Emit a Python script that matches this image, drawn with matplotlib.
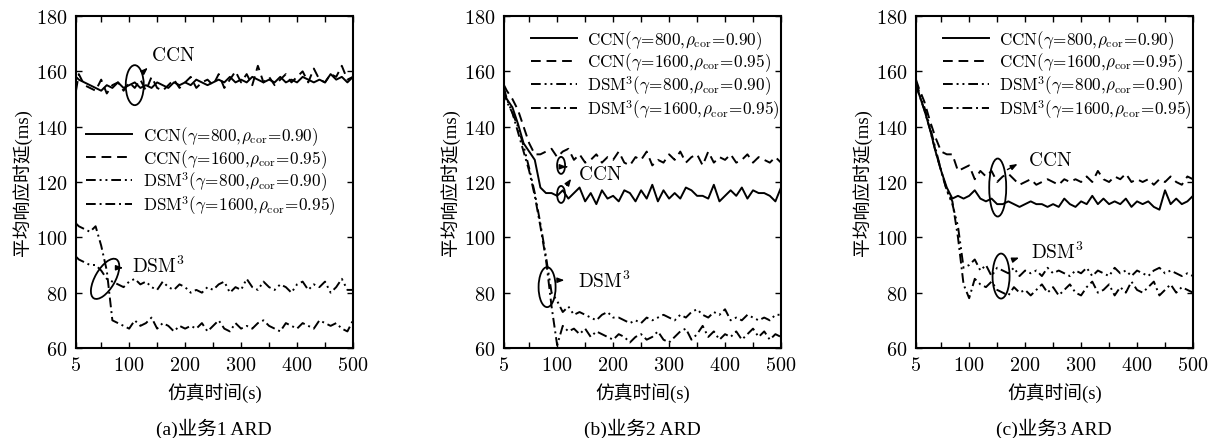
import numpy as np
import matplotlib
matplotlib.use('Agg')
import matplotlib.pyplot as plt
from matplotlib.patches import Ellipse
from matplotlib import transforms

plt.rcParams['font.family'] = ['Liberation Serif', 'Noto Sans CJK SC']
plt.rcParams['mathtext.fontset'] = 'cm'

# time axis (s)
t = [5] + list(range(10, 501, 10))

# (a) service 1
a_ccn800 = [158,
            157, 156, 155, 154, 153, 155, 154, 156, 154, 155,
            156, 154, 155, 154, 156, 155, 154, 156, 155, 156,
            155, 157, 156, 155, 156, 157, 156, 158, 156, 157,
            156, 158, 157, 156, 157, 156, 158, 156, 157, 156,
            158, 157, 156, 157, 156, 159, 157, 158, 156, 158]
a_ccn1600 = [153,
             159, 155, 154, 153, 157, 152, 155, 156, 153, 156,
             154, 157, 153, 158, 154, 153, 155, 157, 154, 156,
             158, 154, 156, 157, 155, 159, 154, 157, 160, 156,
             159, 155, 162, 156, 158, 155, 157, 159, 156, 158,
             160, 156, 161, 157, 156, 159, 158, 162, 157, 158]
a_dsm800 = [93,
            92, 91, 90, 90, 88, 85, 84, 83, 82, 84,
            85, 83, 84, 82, 81, 84, 82, 81, 83, 82,
            80, 81, 80, 82, 81, 83, 84, 80, 82, 81,
            85, 82, 81, 84, 82, 81, 83, 82, 80, 83,
            84, 81, 83, 82, 84, 80, 82, 85, 81, 81]
a_dsm1600 = [105,
             104, 103, 102, 104, 97, 88, 70, 69, 68, 67,
             70, 68, 69, 71, 67, 69, 68, 66, 68, 67,
             68, 67, 69, 66, 68, 70, 67, 66, 69, 67,
             68, 67, 69, 70, 68, 67, 66, 69, 68, 67,
             69, 68, 67, 70, 69, 68, 69, 67, 66, 70]

# (b) service 2
b_ccn800 = [152,
            150, 147, 141, 134, 131, 128, 118, 116, 116, 115,
            117, 114, 116, 118, 113, 116, 112, 117, 114, 115,
            113, 117, 116, 113, 117, 114, 119, 113, 117, 114,
            116, 114, 118, 117, 115, 115, 114, 119, 113, 115,
            117, 115, 118, 114, 117, 116, 116, 115, 113, 118]
b_ccn1600 = [155,
             153, 150, 146, 140, 134, 130, 130, 131, 132, 129,
             131, 132, 128, 130, 127, 128, 130, 127, 129, 128,
             131, 127, 126, 129, 128, 131, 126, 128, 127, 130,
             128, 131, 127, 129, 130, 126, 131, 127, 129, 128,
             130, 127, 128, 130, 127, 129, 128, 127, 129, 127]
b_dsm800 = [154,
            150, 145, 140, 133, 125, 116, 105, 93, 80, 77,
            73, 75, 72, 73, 72, 71, 70, 72, 73, 71,
            71, 70, 69, 70, 69, 71, 70, 71, 72, 71,
            70, 72, 71, 73, 74, 72, 71, 73, 72, 74,
            70, 71, 70, 72, 71, 70, 71, 70, 72, 72]
b_dsm1600 = [153,
             149, 145, 138, 131, 124, 115, 104, 92, 75, 61,
             68, 66, 67, 65, 67, 64, 66, 65, 64, 63,
             65, 64, 62, 64, 65, 63, 64, 66, 63, 62,
             64, 66, 67, 63, 65, 68, 64, 66, 63, 65,
             64, 66, 63, 65, 67, 64, 66, 63, 65, 64]

# (c) service 3
c_ccn800 = [155,
            152, 146, 139, 131, 124, 118, 114, 115, 114, 115,
            117, 114, 113, 114, 112, 112, 113, 112, 111, 112,
            113, 112, 112, 111, 112, 111, 114, 112, 111, 113,
            112, 115, 112, 114, 112, 113, 112, 114, 111, 113,
            112, 113, 111, 110, 117, 112, 114, 112, 113, 115]
c_ccn1600 = [157,
             154, 149, 142, 136, 131, 130, 130, 124, 125, 126,
             121, 124, 122, 124, 120, 122, 123, 121, 119, 120,
             121, 119, 120, 121, 120, 119, 121, 120, 121, 120,
             122, 120, 124, 121, 120, 122, 121, 123, 120, 121,
             120, 121, 119, 121, 120, 122, 120, 119, 122, 121]
c_dsm800 = [156,
            153, 147, 140, 132, 124, 117, 112, 104, 89, 90,
            92, 88, 90, 86, 89, 88, 87, 89, 86, 88,
            87, 88, 86, 89, 87, 88, 87, 86, 88, 87,
            89, 86, 88, 87, 86, 89, 87, 88, 86, 88,
            87, 86, 88, 89, 87, 88, 87, 86, 87, 86]
c_dsm1600 = [155,
             152, 146, 139, 131, 124, 117, 113, 100, 83, 78,
             85, 83, 82, 84, 81, 80, 79, 82, 80, 81,
             79, 81, 83, 80, 82, 79, 81, 83, 80, 79,
             82, 84, 80, 81, 83, 79, 82, 80, 84, 81,
             80, 82, 84, 79, 81, 83, 80, 82, 81, 80]

labels = [r'$\mathrm{CCN}(\gamma\!=\!800,\!\rho_{\mathrm{cor}}\!=\!0.90)$',
          r'$\mathrm{CCN}(\gamma\!=\!1600,\!\rho_{\mathrm{cor}}\!=\!0.95)$',
          r'$\mathrm{DSM}^3(\gamma\!=\!800,\!\rho_{\mathrm{cor}}\!=\!0.90)$',
          r'$\mathrm{DSM}^3(\gamma\!=\!1600,\!\rho_{\mathrm{cor}}\!=\!0.95)$']
captions = ['(a)业务1 ARD', '(b)业务2 ARD', '(c)业务3 ARD']
xticks = [5, 100, 200, 300, 400, 500]
xminor = [50, 150, 250, 350, 450]
yticks = [60, 80, 100, 120, 140, 160, 180]

styles = ['-', (0, (5, 3)), (0, (5, 2, 1, 2, 1, 2)), (0, (5, 2, 1, 2))]


def ellipse(ax, fig, x, y, w, h, ang=0):
    # fixed-size ellipse (inches) centred on data point
    tr = fig.dpi_scale_trans + transforms.ScaledTranslation(x, y, ax.transData)
    e = Ellipse((0, 0), w, h, angle=ang, transform=tr, fill=False, lw=1.3, color='k', clip_on=False)
    ax.add_patch(e)


def arrow(ax, x0, y0, x1, y1):
    ax.annotate('', xy=(x1, y1), xytext=(x0, y0),
                arrowprops=dict(arrowstyle='-|>,head_length=0.4,head_width=0.15', lw=1, color='k'))


fig = plt.figure(figsize=(12.16, 4.39), dpi=100)
lefts = [76, 504, 916]
panels = [[a_ccn800, a_ccn1600, a_dsm800, a_dsm1600],
          [b_ccn800, b_ccn1600, b_dsm800, b_dsm1600],
          [c_ccn800, c_ccn1600, c_dsm800, c_dsm1600]]
leg_anchor = [(0.0, 0.705), (0.06, 0.995), (0.06, 0.995)]
axes = []
for i in range(3):
    ax = fig.add_axes([lefts[i] / 1216, 90 / 439, 277 / 1216, 332 / 439])
    for k in range(4):
        ax.plot(t, panels[i][k], color='k', lw=1.4, linestyle=styles[k], label=labels[k])
    ax.set_xlim(5, 500)
    ax.set_ylim(60, 180)
    ax.set_xticks(xticks)
    ax.set_xticklabels(['$%d$' % v for v in xticks])
    ax.set_xticks(xminor, minor=True)
    ax.set_yticks(yticks)
    ax.set_yticklabels(['$%d$' % v for v in yticks])
    ax.tick_params(which='both', direction='in', top=True, right=True, length=4, width=1, labelsize=14.5, pad=6)
    for s in ax.spines.values():
        s.set_linewidth(1.5)
    ax.set_xlabel('仿真时间(s)', fontsize=13.5, labelpad=5)
    ax.set_ylabel('平均响应时延(ms)', fontsize=13.5, labelpad=3)
    ax.legend(loc='upper left', bbox_to_anchor=leg_anchor[i], frameon=False, fontsize=12.3,
              handlelength=2.7, labelspacing=0.0, handletextpad=0.6, borderaxespad=0.2)
    fig.text((lefts[i] + 138) / 1216, 0.022, captions[i], ha='center', va='center', fontsize=14)
    axes.append(ax)

# annotations
ax = axes[0]
ellipse(ax, fig, 110, 155, 0.18, 0.40)
arrow(ax, 121, 159, 137, 162)
ax.text(178, 166, r'$\mathrm{CCN}$', fontsize=14, ha='center', va='center')
ellipse(ax, fig, 57, 85, 0.20, 0.45, -30)
arrow(ax, 78, 89, 94, 89)
ax.text(152, 90, r'$\mathrm{DSM}^3$', fontsize=14, ha='center', va='center')

ax = axes[1]
ellipse(ax, fig, 107, 126, 0.08, 0.17)
ellipse(ax, fig, 107, 115.5, 0.08, 0.17)
arrow(ax, 112, 125.5, 122, 125.5)
arrow(ax, 114, 118, 128, 122)
ax.text(177, 123, r'$\mathrm{CCN}$', fontsize=14, ha='center', va='center')
ellipse(ax, fig, 82, 82, 0.17, 0.40)
arrow(ax, 98, 84.5, 118, 84.5)
ax.text(185, 84.5, r'$\mathrm{DSM}^3$', fontsize=14, ha='center', va='center')

ax = axes[2]
ellipse(ax, fig, 151, 118, 0.17, 0.58)
arrow(ax, 164, 124, 191, 127)
ax.text(244, 128, r'$\mathrm{CCN}$', fontsize=14, ha='center', va='center')
ellipse(ax, fig, 157, 86, 0.17, 0.45)
arrow(ax, 173, 91.5, 194, 93)
ax.text(257, 95, r'$\mathrm{DSM}^3$', fontsize=14, ha='center', va='center')

plt.savefig('out.png', dpi=100)
plt.close()
